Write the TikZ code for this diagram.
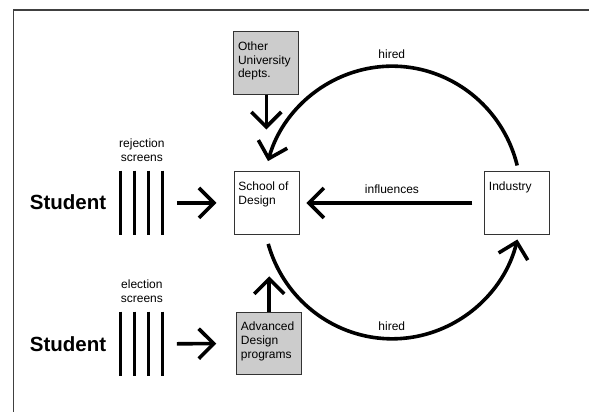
\documentclass[tikz,border=0pt]{standalone}
\usepackage{fontspec}
\setmainfont{Liberation Sans}
\usetikzlibrary{arrows.meta}

\begin{document}
\begin{tikzpicture}[x=1pt,y=-1pt,
    unit/.style={draw=black!80,line width=0.9pt,minimum width=65pt,minimum height=62.5pt,inner sep=0pt},
    shaded/.style={unit,fill=black!20},
    boxtext/.style={anchor=north west,align=left,inner sep=0pt,xshift=4.5pt,yshift=-10.3pt,font=\fontsize{12}{13.7}\selectfont},
    small/.style={inner sep=0pt,font=\fontsize{12}{13.7}\selectfont},
    student/.style={inner sep=0pt,font=\fontsize{20.5}{24}\selectfont\bfseries},
    screens/.style={minimum width=41.7pt,minimum height=64.3pt,inner sep=0pt},
    bar/.style={line width=2.8pt},
    flow/.style={line width=3.6pt,-{Straight Barb[length=15pt,width=30pt]}}]

    \useasboundingbox (0,0) rectangle (589,412);

    % Frame
    \draw[black!75,line width=1.3pt] (13.3,412) -- (13.3,10) -- (589,10);

    % Boxes
    \node[unit]   (school)   at (266.7,202.9) {};
    \node[unit]   (industry) at (517.2,202.9) {};
    \node[shaded] (other)    at (266.3,62.9)  {};
    \node[shaded] (advanced) at (269.2,343.4) {};

    \node[boxtext] (schoolT)   at (school.north west)   {School of\\Design};
    \node[boxtext] (industryT) at (industry.north west) {Industry};
    \node[boxtext] (otherT)    at (other.north west)    {Other\\University\\depts.};
    \node[boxtext] (advancedT) at (advanced.north west) {Advanced\\Design\\programs};

    % Screens
    \node[screens] (scrA) at (141.9,202.9) {};
    \node[screens] (scrB) at (141.9,343.9) {};
    \foreach \s in {scrA,scrB} {
        \foreach \i in {0,...,3} {
            \draw[bar] ([xshift=\i*13.9pt]\s.north west) -- ([xshift=\i*13.9pt]\s.south west);
        }
    }
    \node[small,align=center,anchor=south] (scrAlbl) at ([yshift=9pt]scrA.north) {rejection\\screens};
    \node[small,align=center,anchor=south] (scrBlbl) at ([yshift=9pt]scrB.north) {election\\screens};

    % Students
    \node[student] (stuA) at (68,201.7) {Student};
    \node[student] (stuB) at (68,344)   {Student};

    % Arrows
    \draw[flow,shorten <=14pt,shorten >=17.3pt] (scrA.east) -- (school.west);
    \draw[flow,shorten <=14pt,shorten >=20pt] (scrB.east) -- (advanced.west);
    \draw[flow,shorten >=41.7pt] (other.south) -- (other.south |- school.north);
    \draw[flow,shorten >=41.7pt] (advanced.north) -- (advanced.north |- school.south);
    \draw[flow,shorten <=12pt,shorten >=6.7pt] (industry.west) --
        node[small,anchor=south,yshift=7.6pt] (infl) {influences} (school.east);

    % Hired loop
    \draw[flow] ([yshift=5.7pt]industry.north) arc[start angle=14,end angle=164,x radius=129pt,y radius=131pt];
    \draw[flow] ([xshift=1.5pt,yshift=-9.3pt]school.south) arc[start angle=196,end angle=346,x radius=129pt,y radius=131pt];
    \node[small] (hiredT) at (391.8,54)  {hired};
    \node[small] (hiredB) at (391.8,326) {hired};

\end{tikzpicture}
\end{document}
